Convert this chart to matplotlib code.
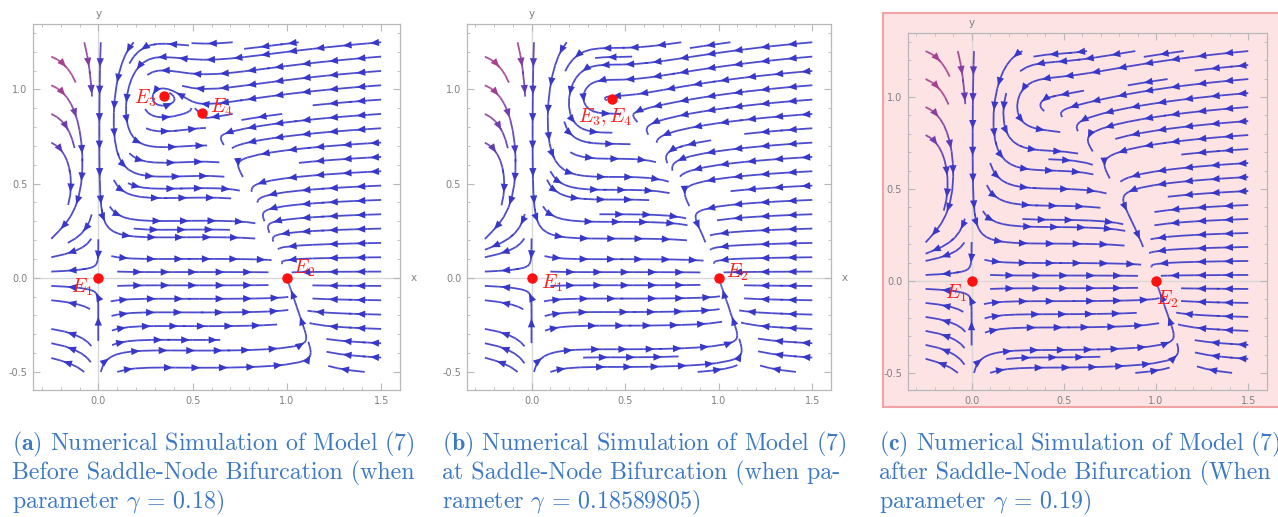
import numpy as np
import matplotlib.pyplot as plt
from matplotlib.colors import LinearSegmentedColormap, Normalize
from matplotlib.patches import Rectangle, FancyArrowPatch

plt.rcParams['mathtext.fontset'] = 'cm'

# model (7): prey x with logistic growth + Holling II predation,
# predator y with a Holling IV numerical response and death rate gamma
half_sat = 0.35
attack = 0.474
conv = 0.1636
inhib = 0.1936
gammas = [0.18, 0.18589805, 0.19]

# equilibria
eq_x = [[0.0, 1.0, 0.35, 0.55], [0.0, 1.0, 0.43], [0.0, 1.0]]
eq_y = [[0.0, 0.0, 0.965, 0.875], [0.0, 0.0, 0.95], [0.0, 0.0]]
eq_text = [[r'$E_1$', r'$E_2$', r'$E_3$', r'$E_4$'],
           [r'$E_1$', r'$E_2$', r'$E_3, E_4$'],
           [r'$E_1$', r'$E_2$']]
lab_x = [[-0.085, 1.09, 0.25, 0.65], [0.11, 1.10, 0.39], [-0.085, 1.06]]
lab_y = [[-0.05, 0.05, 0.95, 0.905], [-0.03, 0.03, 0.855], [-0.065, -0.10]]

captions = [
    [r'$\mathbf{(a)}$ Numerical Simulation of Model (7)',
     'Before Saddle-Node Bifurcation (when',
     r'parameter $\gamma$ = 0.18)'],
    [r'$\mathbf{(b)}$ Numerical Simulation of Model (7)',
     'at Saddle-Node Bifurcation (when pa-',
     r'rameter $\gamma$ = 0.18589805)'],
    [r'$\mathbf{(c)}$ Numerical Simulation of Model (7)',
     'after Saddle-Node Bifurcation (When',
     r'parameter $\gamma$ = 0.19)'],
]
cap_x = [12, 442, 879]

W, H = 1278, 517
fig = plt.figure(figsize=(W / 100, H / 100), dpi=100)

# pink highlight box behind panel (c)
fig.patches.append(Rectangle((883 / W, 1 - 407 / H), 420 / W, 394 / H,
                             transform=fig.transFigure, facecolor='#fde3e3',
                             edgecolor='#f3a3a3', lw=1.5, zorder=-5))

# axes frames in pixels: left, top, right, bottom
frames = [(33, 24, 400, 390), (466.7, 24, 831, 390), (907.7, 32.7, 1266.7, 390)]
ylims = [(-0.596, 1.347), (-0.596, 1.347), (-0.593, 1.35)]

cmap = LinearSegmentedColormap.from_list(
    'sp', [(0, '#3838c8'), (0.45, '#3e38c8'), (1, '#a9408e')])
norm = Normalize(0.05, 0.33)

xs = np.linspace(-0.25, 1.5, 300)
ys = np.linspace(-0.5, 1.25, 300)
X, Y = np.meshgrid(xs, ys)
gray = '#b8b8b8'
arrow_step = 0.14


def chain_segments(segs, vals):
    # rebuild whole streamlines out of the per-step segments
    lines, cur, cv = [], [], []
    for s, v in zip(segs, vals):
        if cur and np.allclose(cur[-1], s[0]):
            cur.append(s[1])
            cv.append(v)
        else:
            if len(cur) > 1:
                lines.append((np.array(cur), cv))
            cur = [s[0], s[1]]
            cv = [v]
    if len(cur) > 1:
        lines.append((np.array(cur), cv))
    return lines


for i, g in enumerate(gammas):
    l, t, r, b = frames[i]
    ax = fig.add_axes([l / W, 1 - b / H, (r - l) / W, (b - t) / H], zorder=2)
    ax.patch.set_alpha(0)

    U = X * (1 - X) - attack * X * Y / (half_sat + X)
    V = Y * (-g + conv * X / (inhib + X ** 2))
    sp = ax.streamplot(X, Y, U, V, density=(0.7, 0.8), color=np.abs(V),
                       cmap=cmap, norm=norm, linewidth=1.3, arrowstyle='-',
                       arrowsize=0.1, zorder=3)
    sp.lines.set_alpha(0.9)

    # arrowheads spaced along each streamline
    for pts, cv in chain_segments(sp.lines.get_segments(), sp.lines.get_array()):
        d = np.hypot(*np.diff(pts, axis=0).T)
        s = np.concatenate([[0], np.cumsum(d)])
        if s[-1] < 0.07:
            continue
        n = max(1, int(s[-1] / arrow_step))
        marks = (np.arange(n) + 0.5) * s[-1] / n
        for m in marks:
            k = min(np.searchsorted(s, m), len(pts) - 1)
            k0 = max(k - 1, 0)
            p0, p1 = pts[k0], pts[k]
            if np.allclose(p0, p1):
                continue
            col = cmap(norm(cv[min(k0, len(cv) - 1)]))
            ax.add_patch(FancyArrowPatch(p0, p1,
                                         arrowstyle='-|>,head_length=0.6,head_width=0.25',
                                         mutation_scale=10.5, color=col,
                                         lw=0, zorder=4))

    ax.axhline(0, color='#d8d8d8', lw=1.0, zorder=1)
    ax.axvline(0, color='#d8d8d8', lw=1.0, zorder=1)

    ax.plot(eq_x[i], eq_y[i], 'o', color='#ff1010', ms=6.5, zorder=5)
    for tx, ty, txt in zip(lab_x[i], lab_y[i], eq_text[i]):
        ax.text(tx, ty, txt, color='#ff1a1a', fontsize=14, ha='center',
                va='center', zorder=6)

    ax.set_xlim(-0.347, 1.60)
    ax.set_ylim(*ylims[i])
    ax.set_xticks([0, 0.5, 1.0, 1.5])
    ax.set_yticks([-0.5, 0, 0.5, 1.0])
    ax.set_xticks(np.arange(-0.3, 1.61, 0.1), minor=True)
    ax.set_yticks(np.arange(-0.5, 1.31, 0.1), minor=True)
    ax.set_xticklabels(['0.0', '0.5', '1.0', '1.5'])
    ax.set_yticklabels(['-0.5', '0.0', '0.5', '1.0'])
    ax.tick_params(which='both', direction='in', top=True, right=True,
                   color=gray, labelsize=7, labelcolor='#808080', pad=4)
    ax.tick_params(which='major', length=5)
    ax.tick_params(which='minor', length=2.5)
    for spine in ax.spines.values():
        spine.set_color(gray)
        spine.set_linewidth(0.9)

    ax.annotate('x', xy=(1.0, 0), xycoords=('axes fraction', 'data'),
                xytext=(10, 0), textcoords='offset points', color='#808080',
                fontsize=7.5, ha='center', va='center', annotation_clip=False)
    ax.annotate('y', xy=(0, 1.0), xycoords=('data', 'axes fraction'),
                xytext=(0, 7), textcoords='offset points', color='#808080',
                fontsize=7.5, ha='center', va='center', annotation_clip=False)

    for k, line in enumerate(captions[i]):
        fig.text(cap_x[i] / W, 1 - (450 + 29 * k) / H, line, family='cmr10',
                 fontsize=17.2, color='#3b78c6', ha='left', va='baseline')

fig.savefig('out.png', dpi=100)
